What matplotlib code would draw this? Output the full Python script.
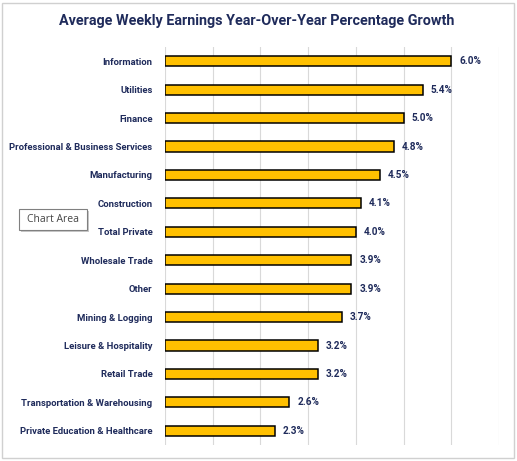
import matplotlib
matplotlib.use("Agg")
import matplotlib.pyplot as plt
from matplotlib.patches import Rectangle

categories = ["Information", "Utilities", "Finance", "Professional & Business Services",
              "Manufacturing", "Construction", "Total Private", "Wholesale Trade", "Other",
              "Mining & Logging", "Leisure & Hospitality", "Retail Trade",
              "Transportation & Warehousing", "Private Education & Healthcare"]
values = [6.0, 5.4, 5.0, 4.8, 4.5, 4.1, 4.0, 3.9, 3.9, 3.7, 3.2, 3.2, 2.6, 2.3]
value_labels = ["6.0%", "5.4%", "5.0%", "4.8%", "4.5%", "4.1%", "4.0%", "3.9%", "3.9%",
                "3.7%", "3.2%", "3.2%", "2.6%", "2.3%"]
title = "Average Weekly Earnings Year-Over-Year Percentage Growth"

navy = "#1F2B5B"
plt.rcParams['font.family'] = ['Roboto', 'DejaVu Sans']

fig = plt.figure(figsize=(5.17, 4.61), dpi=100)
ax = fig.add_axes([165/517, 1-445/461, (499-165)/517, (445-47)/461])

ypos = list(range(len(categories)))
ax.barh(ypos, values, height=0.36, color="#FFC000", edgecolor="black", linewidth=1.1, zorder=3)
for y, v, lab in zip(ypos, values, value_labels):
    ax.text(v + 0.17, y, lab, va="center", ha="left", fontsize=7.2, fontweight="bold", color=navy)

ax.set_xlim(0, 7)
ax.set_ylim(len(categories) - 0.5, -0.5)
ax.set_xticks(range(0, 8))
ax.set_xticklabels([])
ax.set_yticks(ypos)
ax.set_yticklabels(categories, fontsize=6.8, fontweight="bold", color=navy)
ax.tick_params(axis="both", length=0, pad=9)
ax.grid(axis="x", color="#D9D9D9", linewidth=0.8, zorder=0)
for s in ax.spines.values():
    s.set_visible(False)

fig.text(257/517, 1-21/461, title, ha="center", va="center", fontsize=10.4,
         fontweight="bold", color=navy)

# chart area border
fig.patches.append(Rectangle((2/517, 3/461), 512/517, 455/461, transform=fig.transFigure,
                             fill=False, edgecolor="#D0D0D0", linewidth=1))

# "Chart Area" tooltip
fig.patches.append(Rectangle((21/517, 1-232/461), 68/517, 21/461, transform=fig.transFigure,
                             facecolor="#C8C8C8", edgecolor="none", zorder=4))
fig.patches.append(Rectangle((19/517, 1-230/461), 68/517, 21/461, transform=fig.transFigure,
                             facecolor="white", edgecolor="#808080", linewidth=0.8, zorder=5))
fig.text(53/517, 1-219.5/461, "Chart Area", ha="center", va="center", fontsize=7.5,
         color="#444444", family=["Open Sans", "DejaVu Sans"], zorder=6)

fig.savefig("out.png", dpi=100)
